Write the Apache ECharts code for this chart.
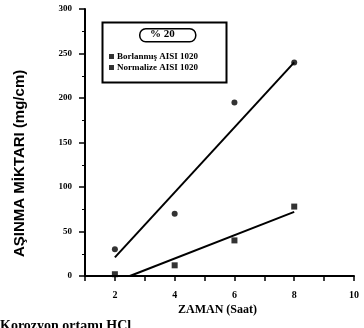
<!DOCTYPE html>
<html>
<head>
<meta charset="utf-8">
<script src="https://cdn.jsdelivr.net/npm/echarts@6/dist/echarts.min.js"></script>
<style>
  html, body { margin: 0; padding: 0; background: #fff; }
  #chart { width: 364px; height: 328px; }
</style>
</head>
<body>
<div id="chart"></div>
<script>
// wear amount vs time
var borlanmis = [[2, 30], [4, 70], [6, 195], [8, 240]];
var normalize = [[2, 2], [4, 12], [6, 40], [8, 78]];
// fitted lines, end points
var borlanmisFit = [[2, 21], [8, 240]];
var normalizeFit = [[2.5, 0], [8, 72]];
var xTicks = [2, 4, 6, 8, 10];

var font = 'Liberation Serif';

var option = {
    animation: false,
    backgroundColor: '#fff',
    grid: { left: 85, right: 10, top: 9, bottom: 52 },
    legend: {
        orient: 'vertical',
        left: 104,
        top: 47,
        itemWidth: 5,
        itemHeight: 5,
        itemGap: 2,
        icon: 'rect',
        data: ['Borlanmış AISI 1020', 'Normalize AISI 1020'],
        textStyle: { fontFamily: font, fontSize: 9, fontWeight: 'bold', color: '#000', padding: [0, 0, 0, -2] }
    },
    xAxis: {
        type: 'value',
        min: 1,
        max: 10,
        interval: 1,
        splitLine: { show: false },
        axisLine: { lineStyle: { color: '#000', width: 2 } },
        axisTick: { length: 5, lineStyle: { color: '#000', width: 1.5 } },
        axisLabel: {
            color: '#000', fontFamily: font, fontWeight: 'bold', fontSize: 10, margin: 14,
            formatter: function (v) { return xTicks.indexOf(v) >= 0 ? v : ''; }
        }
    },
    yAxis: {
        type: 'value',
        min: 0,
        max: 300,
        interval: 50,
        splitLine: { show: false },
        axisLine: { lineStyle: { color: '#000', width: 2 } },
        axisTick: { length: 6, lineStyle: { color: '#000', width: 1.5 } },
        minorTick: { show: true, splitNumber: 2, length: 3, lineStyle: { color: '#000' } },
        axisLabel: { color: '#000', fontFamily: font, fontWeight: 'bold', fontSize: 9, margin: 13 }
    },
    graphic: [
        {
            type: 'rect', left: 100, top: 20,
            shape: { width: 124, height: 60 },
            style: { fill: 'none', stroke: '#000', lineWidth: 2 }
        },
        {
            type: 'rect', left: 139, top: 28,
            shape: { width: 56, height: 13, r: 6 },
            style: { fill: '#fff', stroke: '#000', lineWidth: 1.5 }
        },
        {
            type: 'text', left: 150, top: 29,
            style: { text: '% 20', font: 'bold 11px "Liberation Serif"', fill: '#000' }
        },
        {
            type: 'text', x: 20, y: 257, rotation: Math.PI / 2,
            style: {
                text: 'AŞINMA MİKTARI (mg/cm)', font: 'bold 15px "Liberation Sans"', fill: '#000',
                align: 'left', verticalAlign: 'middle'
            }
        },
        {
            type: 'text', left: 178, top: 304,
            style: { text: 'ZAMAN (Saat)', font: 'bold 12px "Liberation Serif"', fill: '#000' }
        },
        {
            type: 'text', left: 0, top: 319,
            style: { text: 'Korozyon ortamı HCl', font: 'bold 14px "Liberation Serif"', fill: '#000' }
        }
    ],
    series: [
        {
            name: 'Borlanmış AISI 1020',
            type: 'scatter',
            symbol: 'circle',
            symbolSize: 6,
            itemStyle: { color: '#000' },
            data: borlanmis
        },
        {
            name: 'Normalize AISI 1020',
            type: 'scatter',
            symbol: 'rect',
            symbolSize: 6,
            itemStyle: { color: '#000' },
            data: normalize
        },
        {
            type: 'line',
            symbol: 'none',
            lineStyle: { color: '#000', width: 2 },
            data: borlanmisFit
        },
        {
            type: 'line',
            symbol: 'none',
            lineStyle: { color: '#000', width: 2 },
            data: normalizeFit
        }
    ]
};

var myChart = echarts.init(document.getElementById('chart'));
myChart.setOption(option);
</script>
</body>
</html>
